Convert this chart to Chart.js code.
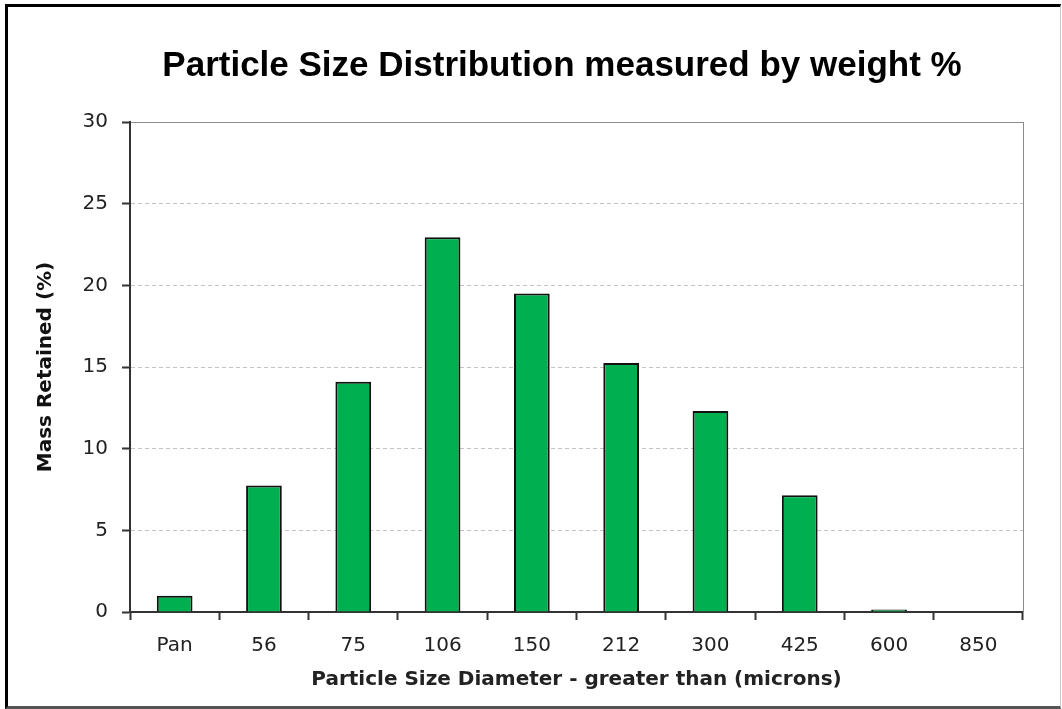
<!DOCTYPE html>
<html>
<head>
<meta charset="utf-8">
<script src="https://cdn.jsdelivr.net/npm/chart.js@4/dist/chart.umd.min.js"></script>
<style>
  html, body { margin: 0; padding: 0; background: #fff; }
  #wrap { position: relative; width: 1062px; height: 709px; overflow: hidden; }
  #frame { position: absolute; left: 5px; top: 4px; width: 1052px; height: 699px;
           border-top: 3px solid #000; border-left: 3px solid #000;
           border-right: 1px solid #c8c8c8; border-bottom: 3px solid #555; }
  #c { position: absolute; left: 0; top: 0; }
</style>
</head>
<body>
<div id="wrap">
  <div id="frame"></div>
  <canvas id="c" width="1062" height="709"></canvas>
</div>
<script>
const categories = ["Pan", "56", "75", "106", "150", "212", "300", "425", "600", "850"];
const massRetained = [1.0, 7.75, 14.1, 22.95, 19.5, 15.25, 12.3, 7.15, 0.15, 0];
const yTicks = [0, 5, 10, 15, 20, 25, 30];
const chartTitle = "Particle Size Distribution measured by weight %";
const xTitle = "Particle Size Diameter - greater than (microns)";
const yTitle = "Mass Retained (%)";

const tickFont = { family: "'DejaVu Sans', Verdana, sans-serif", size: 20 };
const axisTitleFont = { family: "'DejaVu Sans', Verdana, sans-serif", size: 20, weight: "bold" };

new Chart(document.getElementById("c"), {
  type: "bar",
  data: {
    labels: categories,
    datasets: [{
      data: massRetained,
      backgroundColor: "#00B050",
      borderColor: "#111111",
      borderWidth: 2,
      barPercentage: 0.4,
      categoryPercentage: 1.0
    }]
  },
  options: {
    responsive: false,
    animation: false,
    devicePixelRatio: 1,
    layout: { padding: { left: 20, right: -42, top: 0, bottom: 0 } },
    plugins: {
      legend: { display: false },
      tooltip: { enabled: false },
      title: {
        display: true,
        text: chartTitle,
        color: "#000",
        font: { family: "'Liberation Sans', Arial, sans-serif", size: 35, weight: "bold" },
        padding: { top: 45, bottom: 35 }
      }
    },
    scales: {
      x: {
        offset: true,
        grid: { display: true, offset: true, drawOnChartArea: false, drawTicks: true,
                tickLength: 8, tickColor: "#333", tickWidth: 2 },
        border: { display: true, color: "#333", width: 2 },
        ticks: { color: "#222", font: tickFont, padding: 14, maxRotation: 0, autoSkip: false },
        title: { display: true, text: xTitle, color: "#222", font: axisTitleFont, padding: { top: 0, bottom: 17 } },
        afterFit: (s) => { s.height = 97; }
      },
      y: {
        min: 0, max: 30,
        afterBuildTicks: (s) => { s.ticks = yTicks.map(v => ({ value: v })); },
        grid: {
          color: (ctx) => ctx.tick && ctx.tick.value === 30 ? "#8c8c8c" : "#c4c4c4",
          lineWidth: 1,
          drawTicks: true, tickLength: 8, tickColor: "#333", tickWidth: 2
        },
        border: {
          display: true, color: "#333", width: 2,
          dash: (ctx) => ctx.tick && ctx.tick.value === 30 ? [] : [4, 3]
        },
        ticks: { color: "#222", font: tickFont, padding: 14 },
        title: { display: true, text: yTitle, color: "#111", font: axisTitleFont, padding: { top: 14, bottom: 0 } },
        afterFit: (s) => { s.width = 110; }
      },
      y2: {
        position: "right",
        min: 0, max: 30,
        grid: { display: false, drawOnChartArea: false, drawTicks: false },
        border: { display: true, color: "#8c8c8c", width: 1 },
        ticks: { display: false },
        afterFit: (s) => { s.width = 81; }
      }
    }
  }
});
</script>
</body>
</html>
